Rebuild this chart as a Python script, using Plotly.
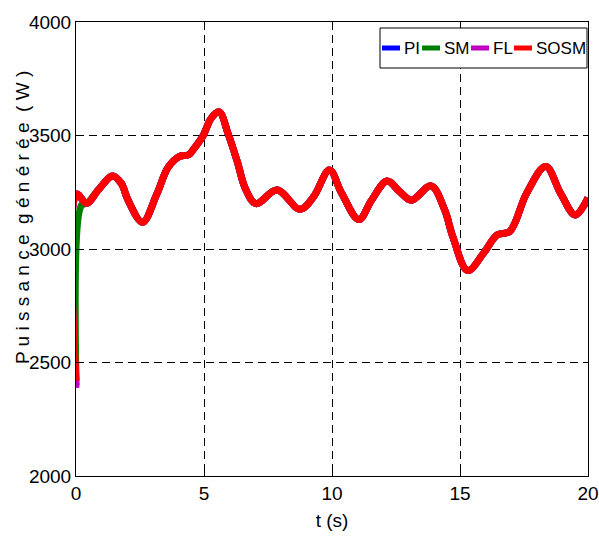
import plotly.graph_objects as go

# steady-state samples (all four controllers overlap)
t_ss = [0.02, 0.42, 0.87, 1.43, 1.77, 2.03, 2.6, 3.15, 3.6, 4.05, 4.4, 4.62, 4.97, 5.27, 5.59,
        5.95, 6.3, 6.62, 7.03, 7.85, 8.75, 9.28, 9.9, 10.38, 11.05, 11.55, 12.15, 12.65,
        13.1, 13.87, 14.4, 14.72, 15.3, 15.93, 16.45, 16.95, 17.6, 18.35, 18.93, 19.5, 20.0]
p_ss = [3242, 3201, 3260, 3322, 3289, 3216, 3118, 3240, 3360, 3408, 3415, 3444, 3500, 3574, 3604,
        3505, 3385, 3265, 3200, 3260, 3175, 3230, 3348, 3245, 3130, 3216, 3300, 3252,
        3215, 3278, 3172, 3054, 2905, 2983, 3062, 3078, 3245, 3363, 3245, 3150, 3225]

# start-up transients
pi_t0, pi_p0 = [0.0], [2400]
sm_t0, sm_p0 = [0.0, 0.22], [2420, 3194]
fl_t0, fl_p0 = [0.0], [2388]
sosm_t0, sosm_p0 = [0.0], [2420]

names = ["PI", "SM", "FL", "SOSM"]
colors = ["#0000ff", "#008000", "#bf00bf", "#ff0000"]

def series(t0, p0, tmin):
    t = list(t0) + [t for t in t_ss if t >= tmin]
    p = list(p0) + [p for t, p in zip(t_ss, p_ss) if t >= tmin]
    return t, p

data = [series(pi_t0, pi_p0, 0.0), series(sm_t0, sm_p0, 0.3),
        series(fl_t0, fl_p0, 0.0), series(sosm_t0, sosm_p0, 0.0)]

FONT = "Liberation Sans Narrow, Arial Narrow, Liberation Sans, Arial, sans-serif"

W, H = 599, 546
ML, MR, MT, MB = 76, 11, 22, 70
PW, PH = W - ML - MR, H - MT - MB

def px(xp):
    return (xp - ML) / PW

def py(yp):
    return (H - MB - yp) / PH

fig = go.Figure()
for (t, p), n, c in zip(data, names, colors):
    fig.add_trace(go.Scatter(x=t, y=p, name=n, mode="lines", showlegend=False,
                             line=dict(color=c, width=7, shape="spline", smoothing=1.0)))

axis_common = dict(showline=True, mirror=True, linecolor="black", linewidth=1,
                   ticks="inside", ticklen=5, tickcolor="black",
                   showgrid=True, gridcolor="black", griddash="8px,5px", gridwidth=1,
                   zeroline=False, automargin=False, ticklabeloverflow="allow",
                   tickfont=dict(family=FONT, size=19, color="black"))

fig.update_layout(
    width=W, height=H,
    margin=dict(l=ML, r=MR, t=MT, b=MB),
    paper_bgcolor="white", plot_bgcolor="white",
    xaxis=dict(range=[0, 20], tickvals=[0, 5, 10, 15, 20],
               title=dict(text="t (s)", font=dict(family=FONT, size=19, color="black"), standoff=10),
               **axis_common),
    yaxis=dict(range=[2000, 4000], tickvals=[2000, 2500, 3000, 3500, 4000],
               **axis_common),
    showlegend=False,
)

# legend box (drawn in paper coordinates, top-right like the original)
fig.add_shape(type="rect", xref="paper", yref="paper",
              x0=px(380), x1=px(587), y0=py(68), y1=py(28),
              line=dict(color="black", width=1), fillcolor="white", layer="above")
leg_line_x = [(382, 400), (422, 440), (471, 489), (514, 532)]
leg_text_x = [402, 442, 491, 534]
for (a, b), tx, n, c in zip(leg_line_x, leg_text_x, names, colors):
    fig.add_shape(type="line", xref="paper", yref="paper",
                  x0=px(a), x1=px(b), y0=py(48), y1=py(48),
                  line=dict(color=c, width=5), layer="above")
    fig.add_annotation(text=n, xref="paper", yref="paper", x=px(tx), y=py(48),
                       xanchor="left", yanchor="middle", showarrow=False,
                       font=dict(family=FONT, size=17, color="black"))

fig.add_annotation(text="P u i s s a n c e  g é n é r é e  ( W )", xref="paper", yref="paper",
                   x=px(22), y=py(218), xanchor="center", yanchor="middle",
                   textangle=-90, showarrow=False,
                   font=dict(family=FONT, size=19, color="black"))

fig.write_html("out.html", config={"displayModeBar": False},
               post_script="document.body.style.margin='0';")
